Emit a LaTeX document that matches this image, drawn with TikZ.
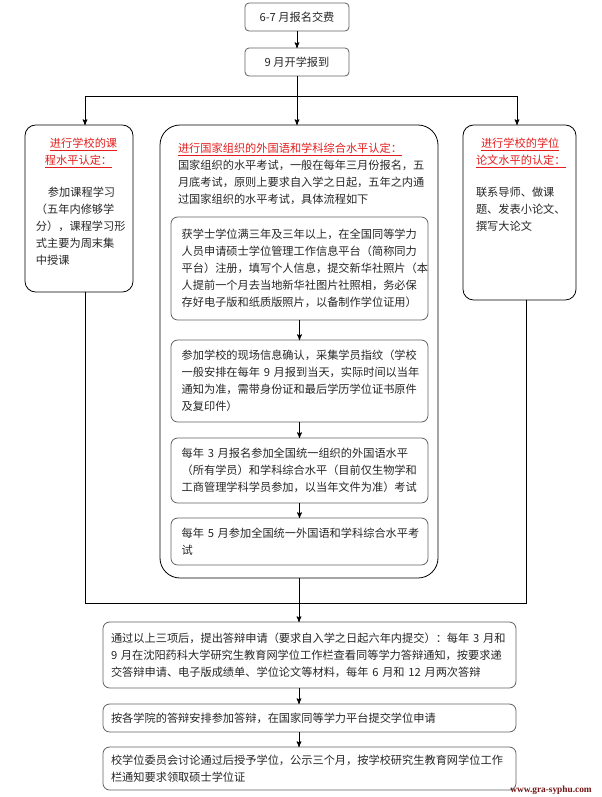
\documentclass[tikz,border=0pt]{standalone}
\usepackage{fontspec}
\setmainfont{Noto Sans CJK SC}
\newfontfamily\markfont{Liberation Serif}
\usetikzlibrary{arrows, positioning}
\definecolor{titlered}{RGB}{228,28,28}
\definecolor{boxgrey}{RGB}{95,95,95}
\definecolor{markred}{RGB}{115,20,20}

\begin{document}
\begin{tikzpicture}[->, >=stealth', line width=0.6pt, x=0.75pt, y=-0.75pt,
	every node/.style={font=\fontsize{8.4}{12.75}\selectfont, text=black!85, inner sep=0pt, outer sep=0pt},
	topbox/.style={draw=boxgrey, rounded corners=3pt, minimum width=78pt, minimum height=21pt},
	bigbox/.style={draw=black, rounded corners=#1},
	inbox/.style={draw=boxgrey, rounded corners=5pt, align=left, inner xsep=8pt, text width=176.75pt, minimum width=192.75pt},
	lowbox/.style={draw=boxgrey, rounded corners=5pt, align=left, inner xsep=6pt, text width=297.75pt, minimum width=309.75pt},
	title/.style={anchor=north west, align=left, text=titlered},
	body/.style={anchor=north west, align=left}]
		
		\useasboundingbox (0,0) rectangle (602,797);
		
		\node (1) [topbox] at (297,17) {6-7~月报名交费};
		\node (2) [topbox] at (297,62) {9~月开学报到};
		
		\node (3) [bigbox=8pt, minimum width=81pt, minimum height=125.25pt] at (79,208.5) {};
		\node (4) [bigbox=15pt, minimum width=208.5pt, minimum height=339.75pt] at (299,351.5) {};
		\node (5) [bigbox=8pt, minimum width=84.75pt, minimum height=131.25pt] at (519.5,212.5) {};
		
		\node (3a) [title] at (45,138) {\hspace*{3.75pt}\underline{进行学校的课}\\\underline{程水平认定：}};
		\node (3b) [body] at (36,187) {\hspace*{9pt}参加课程学习\\（五年内修够学\\分），课程学习形\\式主要为周末集\\中授课};
		
		\node (4a) [title] at (178,143) {\underline{进行国家组织的外国语和学科综合水平认定：}};
		\node (4b) [body] at (178,160) {国家组织的水平考试，一般在每年三月份报名，五\\月底考试，原则上要求自入学之日起，五年之内通\\过国家组织的水平考试，具体流程如下};
		
		\node (5a) [title] at (476,138) {\hspace*{3.75pt}\underline{进行学校的学位}\\\underline{论文水平的认定：}};
		\node (5b) [body] at (476,187) {联系导师、做课\\题、发表小论文、\\撰写大论文};
		
		\node (6) [inbox, minimum height=77.25pt] at (299.5,268.5) {获学士学位满三年及三年以上，在全国同等学力\\人员申请硕士学位管理工作信息平台（简称同力\\平台）注册，填写个人信息，提交新华社照片（本\\人提前一个月去当地新华社图片社照相，务必保\\存好电子版和纸质版照片，以备制作学位证用）};
		\node (7) [inbox, minimum height=61.5pt] at (299.5,381) {参加学校的现场信息确认，采集学员指纹（学校\\一般安排在每年~9~月报到当天，实际时间以当年\\通知为准，需带身份证和最后学历学位证书原件\\及复印件）};
		\node (8) [inbox, minimum height=48.75pt] at (299.5,470.5) {每年~3~月报名参加全国统一组织的外国语水平\\（所有学员）和学科综合水平（目前仅生物学和\\工商管理学科学员参加，以当年文件为准）考试};
		\node (9) [inbox, minimum height=35.25pt] at (299.5,541.5) {每年~5~月参加全国统一外国语和学科综合水平考\\试};
		
		\node (10) [lowbox, minimum height=49.5pt] at (309.5,655) {通过以上三项后，提出答辩申请（要求自入学之日起六年内提交）：每年~3~月和\\9~月在沈阳药科大学研究生教育网学位工作栏查看同等学力答辩通知，按要求递\\交答辩申请、电子版成绩单、学位论文等材料，每年~6~月和~12~月两次答辩};
		\node (11) [lowbox, minimum height=21pt] at (309.5,718) {按各学院的答辩安排参加答辩，在国家同等学力平台提交学位申请};
		\node (12) [lowbox, minimum height=32.25pt] at (309.5,768.5) {校学位委员会讨论通过后授予学位，公示三个月，按学校研究生教育网学位工作\\栏通知要求领取硕士学位证};
		
		\node (13) [font=\markfont\bfseries\fontsize{7}{8}\selectfont, text=markred] at (551,790) {www.gra-syphu.com};
		
		\coordinate (jl) at (85,96);
		\coordinate (jr) at (517,96);
		\coordinate (bl) at (85,603);
		\coordinate (br) at (526,603);
		
		\draw[-] (jl) -- (jr);
		\draw[-] (bl |- 3.south) -- (bl) -- (br) -- (br |- 5.south);
		
		\path
		(1) edge (2)
		(2.south) edge (2.south |- 4.north)
		(jl) edge (jl |- 3.north)
		(jr) edge (jr |- 5.north)
		
		(6) edge (7)
		(7) edge (8)
		(8) edge (9)
		
		(4.south) edge (4.south |- 10.north)
		(10.south -| 4.south) edge (11.north -| 4.south)
		(11.south -| 4.south) edge (12.north -| 4.south);
		
\end{tikzpicture}
\end{document}
